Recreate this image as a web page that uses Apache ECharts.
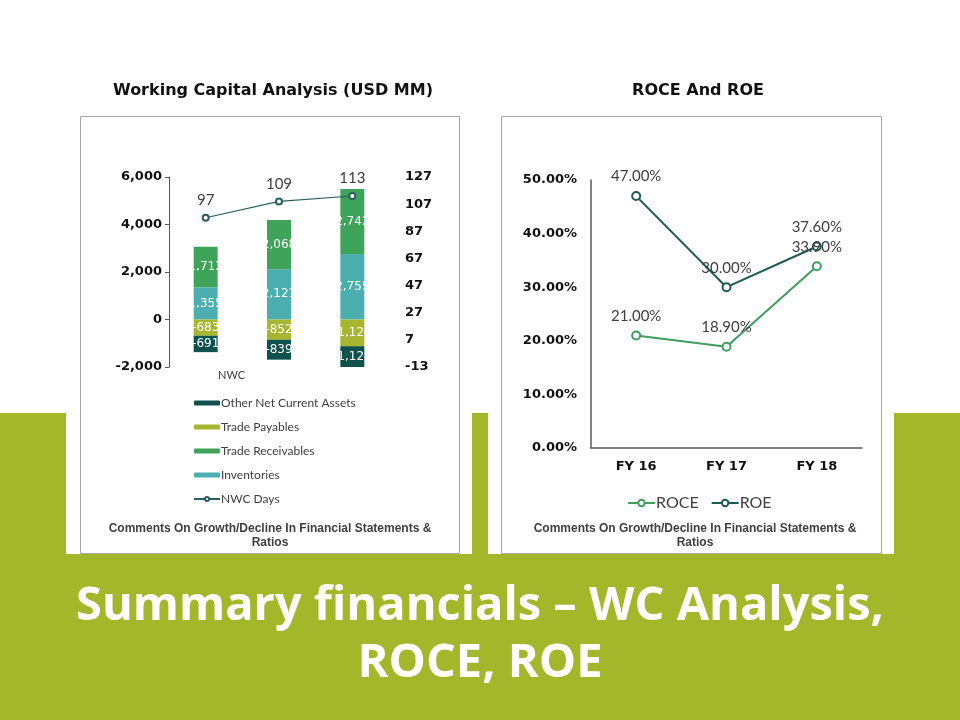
<!DOCTYPE html>
<html>
<head>
<meta charset="utf-8">
<script src="https://cdn.jsdelivr.net/npm/echarts@6/dist/echarts.min.js"></script>
<style>
  html, body { margin: 0; padding: 0; background: #fff; }
  #main { width: 960px; height: 720px; }
</style>
</head>
<body>
<div id="main"></div>
<script>
// working capital (USD MM)
var wcCategories = ['FY 16', 'FY 17', 'FY 18'];
var inventories = [1355, 2121, 2755];
var tradeReceivables = [1713, 2068, 2742];
var tradePayables = [-683, -852, -1124];
var otherNetCurrentAssets = [-691, -839, -1124];
var nwcDays = [97, 109, 113];

// ROCE / ROE in %
var ratioYears = ['FY 16', 'FY 17', 'FY 18'];
var roce = [21.0, 18.9, 33.9];
var roe = [47.0, 30.0, 37.6];

var FONT = 'Lato';
var AXIS_FONT = 'DejaVu Sans';
var commentText = 'Comments On Growth/Decline In Financial Statements &\nRatios';

function thousands(v) {
  return Number(v).toLocaleString('en-US');
}
function pct(v) {
  return Number(v).toFixed(2) + '%';
}

var barLabel = {
  show: true,
  color: '#fff',
  fontSize: 12,
  fontFamily: AXIS_FONT,
  formatter: function (p) { return thousands(p.value); }
};
var axisText = { fontFamily: AXIS_FONT, fontWeight: 'bold', fontSize: 13, color: '#111' };

var myChart = echarts.init(document.getElementById('main'));

var option = {
  backgroundColor: '#fff',
  animation: false,
  graphic: [
    { type: 'rect', z: -10, shape: { x: 0, y: 413, width: 960, height: 307 }, style: { fill: '#a3b72b' } },
    { type: 'rect', z: -9, shape: { x: 66, y: 400, width: 406, height: 154 }, style: { fill: '#fff' } },
    { type: 'rect', z: -9, shape: { x: 488, y: 400, width: 406, height: 154 }, style: { fill: '#fff' } },
    { type: 'rect', z: -8, shape: { x: 80.5, y: 116.5, width: 379, height: 437 }, style: { fill: 'none', stroke: '#a6a6a6', lineWidth: 1 } },
    { type: 'rect', z: -8, shape: { x: 501.5, y: 116.5, width: 380, height: 437 }, style: { fill: 'none', stroke: '#a6a6a6', lineWidth: 1 } },
    {
      type: 'text', x: 270, y: 522,
      style: { text: commentText, fill: '#404040', font: 'bold 12px "Liberation Sans", Arial', textAlign: 'center', lineHeight: 14 }
    },
    {
      type: 'text', x: 695, y: 522,
      style: { text: commentText, fill: '#404040', font: 'bold 12px "Liberation Sans", Arial', textAlign: 'center', lineHeight: 14 }
    },
    {
      type: 'text', x: 480, y: 578,
      style: {
        text: 'Summary financials \u2013 WC Analysis,\nROCE, ROE',
        fill: '#fff', font: 'bold 47px "Open Sans"', textAlign: 'center', lineHeight: 57
      }
    }
  ],
  title: [
    { text: 'Working Capital Analysis (USD MM)', left: 268, top: 78, textAlign: 'center',
      textStyle: { fontFamily: AXIS_FONT, fontWeight: 'bold', fontSize: 16, color: '#111' } },
    { text: 'ROCE And ROE', left: 693, top: 78, textAlign: 'center',
      textStyle: { fontFamily: AXIS_FONT, fontWeight: 'bold', fontSize: 16, color: '#111' } }
  ],
  legend: [
    {
      orient: 'vertical', left: 188, top: 392, itemGap: 12,
      itemWidth: 26, itemHeight: 5,
      data: ['Other Net Current Assets', 'Trade Payables', 'Trade Receivables', 'Inventories', 'NWC Days'],
      textStyle: { fontFamily: FONT, fontSize: 12, color: '#404040', padding: [0, 0, 0, -4] }
    },
    {
      orient: 'horizontal', left: 622, top: 490, itemGap: 12,
      itemWidth: 27, itemHeight: 8,
      data: ['ROCE', 'ROE'],
      textStyle: { fontFamily: FONT, fontSize: 16, color: '#404040', padding: [0, 0, 0, -4] }
    }
  ],
  grid: [
    { left: 169, top: 177, width: 220, height: 190 },
    { left: 591, top: 180, width: 271, height: 268 }
  ],
  xAxis: [
    {
      type: 'category', gridIndex: 0, data: wcCategories,
      axisLine: { show: false }, axisTick: { show: false }, axisLabel: { show: false },
      name: 'NWC', nameLocation: 'middle', nameGap: 3,
      nameTextStyle: { fontFamily: FONT, fontSize: 11, color: '#404040', padding: [0, 95, 0, 0] }
    },
    {
      type: 'category', gridIndex: 1, data: ratioYears,
      axisLine: { show: true, lineStyle: { color: '#595959', width: 1.5 } },
      axisTick: { show: false },
      axisLabel: Object.assign({ margin: 12 }, axisText)
    }
  ],
  yAxis: [
    {
      type: 'value', gridIndex: 0, min: -2000, max: 6000, interval: 2000,
      splitLine: { show: false },
      axisLine: { show: true, lineStyle: { color: '#595959' } },
      axisTick: { show: true, length: 4, lineStyle: { color: '#595959' } },
      axisLabel: Object.assign({ margin: 7, formatter: function (v) { return thousands(v); } }, axisText)
    },
    {
      type: 'value', gridIndex: 0, position: 'right', min: -13, max: 127, interval: 20,
      splitLine: { show: false }, axisLine: { show: false }, axisTick: { show: false },
      axisLabel: Object.assign({ margin: 16 }, axisText)
    },
    {
      type: 'value', gridIndex: 1, min: 0, max: 50, interval: 10,
      splitLine: { show: false },
      axisLine: { show: true, lineStyle: { color: '#595959', width: 1.5 } },
      axisTick: { show: false },
      axisLabel: Object.assign({ margin: 14, formatter: function (v) { return pct(v); } }, axisText)
    }
  ],
  series: [
    {
      name: 'Inventories', type: 'bar', stack: 'wc', xAxisIndex: 0, yAxisIndex: 0,
      barWidth: 24, data: inventories, itemStyle: { color: '#4aafae' }, label: barLabel
    },
    {
      name: 'Trade Receivables', type: 'bar', stack: 'wc', xAxisIndex: 0, yAxisIndex: 0,
      barWidth: 24, data: tradeReceivables, itemStyle: { color: '#3fa35a' }, label: barLabel
    },
    {
      name: 'Trade Payables', type: 'bar', stack: 'wc', xAxisIndex: 0, yAxisIndex: 0,
      barWidth: 24, data: tradePayables, itemStyle: { color: '#a6b630' }, label: barLabel
    },
    {
      name: 'Other Net Current Assets', type: 'bar', stack: 'wc', xAxisIndex: 0, yAxisIndex: 0,
      barWidth: 24, data: otherNetCurrentAssets, itemStyle: { color: '#0f514d' }, label: barLabel
    },
    {
      name: 'NWC Days', type: 'line', xAxisIndex: 0, yAxisIndex: 1, data: nwcDays,
      symbol: 'emptyCircle', symbolSize: 6, z: 5,
      lineStyle: { color: '#2a5f5e', width: 1.2 },
      itemStyle: { color: '#2a5f5e', borderWidth: 1.2 },
      label: { show: true, position: 'top', distance: 6, fontFamily: FONT, fontSize: 15, color: '#404040' }
    },
    {
      name: 'ROCE', type: 'line', xAxisIndex: 1, yAxisIndex: 2, data: roce,
      symbol: 'emptyCircle', symbolSize: 8,
      lineStyle: { color: '#3f9e5e', width: 2 },
      itemStyle: { color: '#3f9e5e', borderWidth: 2 },
      label: { show: true, position: 'top', distance: 7, fontFamily: FONT, fontSize: 15, color: '#404040',
        formatter: function (p) { return pct(p.value); } }
    },
    {
      name: 'ROE', type: 'line', xAxisIndex: 1, yAxisIndex: 2, data: roe,
      symbol: 'emptyCircle', symbolSize: 8,
      lineStyle: { color: '#1d5955', width: 2 },
      itemStyle: { color: '#1d5955', borderWidth: 2 },
      label: { show: true, position: 'top', distance: 7, fontFamily: FONT, fontSize: 15, color: '#404040',
        formatter: function (p) { return pct(p.value); } }
    }
  ]
};

myChart.setOption(option);
</script>
</body>
</html>
